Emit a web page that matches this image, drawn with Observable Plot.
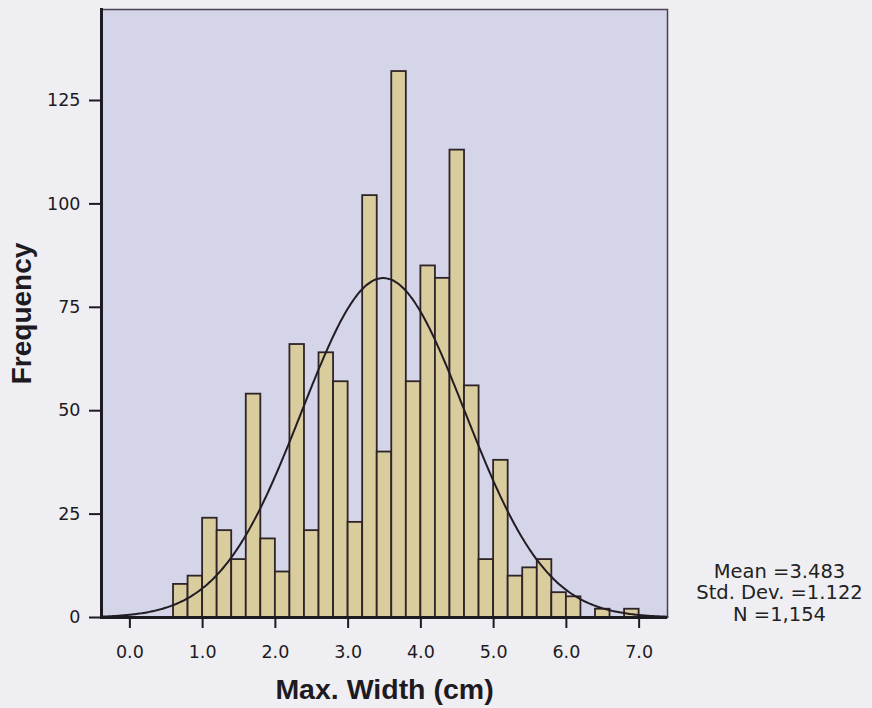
<!DOCTYPE html>
<html>
<head>
<meta charset="utf-8">
<script src="https://cdn.jsdelivr.net/npm/d3@7"></script>
<script src="https://cdn.jsdelivr.net/npm/@observablehq/plot@0.6"></script>
<style>
  html, body { margin: 0; padding: 0; background: #efeff3; }
  #chart svg { display: block; }
</style>
</head>
<body>
<div id="chart"></div>
<script>
// Histogram of maximum width (cm), bins of 0.2 cm, with fitted normal curve
const binStarts = [0.6, 0.8, 1.0, 1.2, 1.4, 1.6, 1.8, 2.0, 2.2, 2.4, 2.6, 2.8, 3.0, 3.2, 3.4, 3.6,
                   3.8, 4.0, 4.2, 4.4, 4.6, 4.8, 5.0, 5.2, 5.4, 5.6, 5.8, 6.0, 6.2, 6.4, 6.6, 6.8];
const counts    = [8, 10, 24, 21, 14, 54, 19, 11, 66, 21, 64, 57, 23, 102, 40, 132,
                   57, 85, 82, 113, 56, 14, 38, 10, 12, 14, 6, 5, 0, 2, 0, 2];
const binWidth = 0.2;

const xTicks = [0, 1, 2, 3, 4, 5, 6, 7];
const yTicks = [0, 25, 50, 75, 100, 125];

const statMean = 3.483;
const statSD = 1.122;
const statN = 1154;

const xLabel = "Max. Width (cm)";
const yLabel = "Frequency";

const bins = binStarts
  .map((x0, i) => ({x0, x1: x0 + binWidth, count: counts[i]}))
  .filter(d => d.count > 0);

// Normal curve scaled to counts per bin: N * width * pdf(x)
const xMin = -0.39, xMax = 7.39;
const curve = d3.range(xMin, xMax + 0.001, 0.02).map(x => ({
  x,
  y: statN * binWidth * Math.exp(-0.5 * ((x - statMean) / statSD) ** 2) / (statSD * Math.sqrt(2 * Math.PI))
}));

const statsText = [
  `Mean =${d3.format(".3f")(statMean)}`,
  `Std. Dev. =${d3.format(".3f")(statSD)}`,
  `N =${d3.format(",")(statN)}`
].join("\n");

const ink = "#1e1a22";

const chart = Plot.plot({
  width: 872,
  height: 708,
  marginLeft: 101,
  marginRight: 205,
  marginTop: 9,
  marginBottom: 91,
  style: {
    background: "transparent",
    color: ink,
    fontFamily: "'DejaVu Sans', sans-serif",
    fontSize: "17.5px"
  },
  x: {domain: [xMin, xMax]},
  y: {domain: [0, 147]},
  marks: [
    Plot.frame({fill: "#d4d5e8"}),
    Plot.rectY(bins, {
      x1: "x0", x2: "x1", y: "count",
      fill: "#d9cd9e", stroke: "#2e2428", strokeWidth: 1.8, inset: 0
    }),
    Plot.line(curve, {x: "x", y: "y", stroke: "#231c24", strokeWidth: 2, curve: "natural"}),
    Plot.frame({stroke: "#4a4052", strokeWidth: 1.5}),
    Plot.frame({anchor: "left", stroke: ink, strokeWidth: 3}),
    Plot.ruleY([0], {stroke: ink, strokeWidth: 3}),
    Plot.axisX(xTicks, {
      tickSize: 11, tickPadding: 17, strokeWidth: 2,
      tickFormat: d3.format(".1f"), label: null,
      fontSize: 17.5
    }),
    Plot.axisY(yTicks, {
      tickSize: 12, tickPadding: 9, strokeWidth: 2,
      label: null, fontSize: 17.5
    }),
    Plot.text([xLabel], {
      frameAnchor: "bottom", dy: 81, lineAnchor: "bottom", textAnchor: "middle",
      fontFamily: "'Liberation Sans', Arial, sans-serif",
      fontWeight: "bold", fontSize: 28.5, fill: ink
    }),
    Plot.text([yLabel], {
      frameAnchor: "left", dx: -71, rotate: -90, lineAnchor: "bottom", textAnchor: "middle",
      fontFamily: "'Liberation Sans', Arial, sans-serif",
      fontWeight: "bold", fontSize: 28, fill: ink
    }),
    Plot.text([statsText], {
      frameAnchor: "bottom-right", dx: 112, dy: 3,
      textAnchor: "middle", lineAnchor: "bottom", lineHeight: 1.1,
      fontFamily: "'DejaVu Sans', sans-serif", fontSize: 19.5, fill: "#222"
    })
  ]
});

document.getElementById("chart").appendChild(chart);
</script>
</body>
</html>
